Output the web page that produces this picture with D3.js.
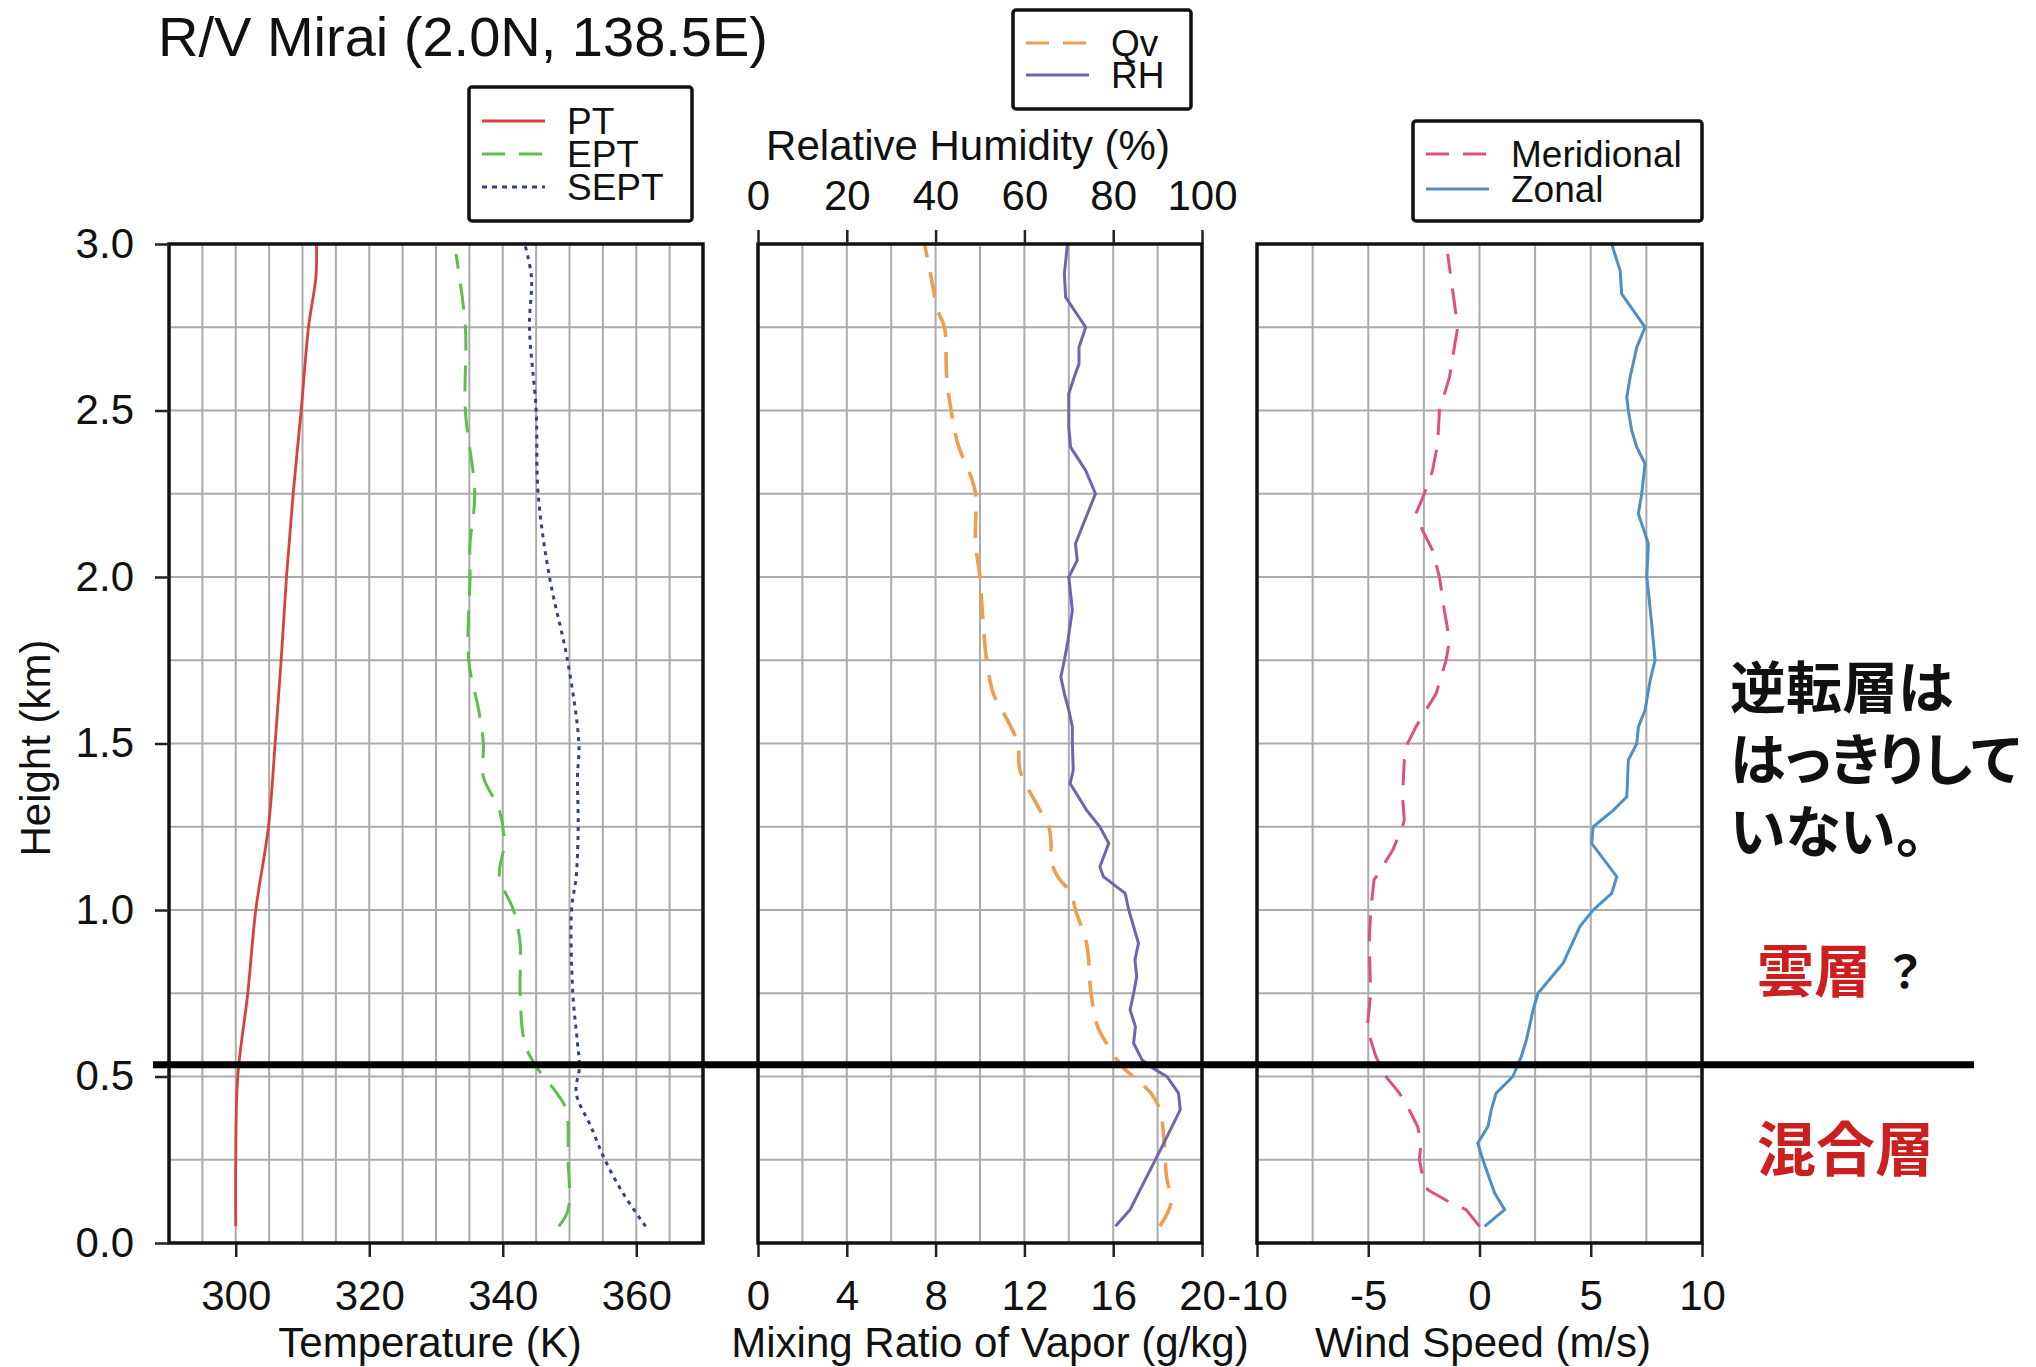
<!DOCTYPE html>
<html>
<head>
<meta charset="utf-8">
<script src="https://cdn.jsdelivr.net/npm/d3@7"></script>
<style>
  html, body { margin: 0; padding: 0; background: #fff; }
  svg text { font-family: "Liberation Sans", Arial, Helvetica, sans-serif; fill: #111; }
  .jp { font-family: "Noto Sans CJK JP", "Noto Sans", sans-serif; font-feature-settings: "palt"; }
</style>
</head>
<body>
<div id="chart"></div>
<script>
// Temperature profiles (K)
const ptHeight = [0.05, 0.25, 0.5, 0.75, 1.0, 1.25, 1.5, 1.75, 2.0, 2.25, 2.5, 2.75, 2.9, 3.0];
const ptValue  = [300.0, 300.0, 300.3, 301.8, 303.0, 304.9, 305.9, 306.8, 307.6, 308.6, 309.8, 310.9, 312.0, 312.1];

const eptHeight = [0.05, 0.1, 0.25, 0.4, 0.45, 0.53, 0.6, 0.75, 0.9, 1.0, 1.1, 1.2, 1.3, 1.4, 1.5, 1.6, 1.75, 2.0, 2.1, 2.25, 2.5, 2.75, 2.97];
const eptValue  = [348.4, 349.8, 349.8, 349.5, 348.1, 345.0, 343.3, 342.6, 342.6, 341.6, 339.5, 340.2, 339.5, 337.1, 337.1, 336.4, 334.9, 335.1, 335.1, 335.8, 334.4, 334.4, 333.0];

const septHeight = [0.05, 0.15, 0.25, 0.35, 0.45, 0.53, 0.6, 0.75, 1.0, 1.1, 1.25, 1.4, 1.5, 1.75, 2.0, 2.25, 2.5, 2.75, 2.9, 3.0];
const septValue  = [361.4, 358.0, 355.3, 353.2, 351.0, 351.5, 351.2, 350.5, 350.3, 351.0, 351.3, 351.2, 351.4, 349.7, 347.0, 345.3, 345.0, 344.0, 344.3, 343.3];

// Water vapour (g/kg) and relative humidity (%)
const qvHeight = [0.05, 0.12, 0.2, 0.3, 0.4, 0.45, 0.5, 0.53, 0.6, 0.65, 0.75, 0.9, 1.0, 1.05, 1.1, 1.15, 1.2, 1.25, 1.3, 1.42, 1.5, 1.6, 1.65, 1.75, 1.9, 2.0, 2.1, 2.25, 2.3, 2.4, 2.5, 2.6, 2.75, 2.8, 2.9, 3.0];
const qvValue  = [18.1, 18.6, 18.4, 18.3, 18.1, 17.7, 16.9, 16.4, 15.7, 15.3, 15.0, 14.8, 14.3, 14.1, 13.5, 13.2, 13.2, 13.1, 12.7, 11.8, 11.7, 11.0, 10.6, 10.3, 10.1, 10.0, 9.8, 9.8, 9.6, 9.0, 8.7, 8.5, 8.4, 8.1, 7.8, 7.5];

const rhHeight = [0.05, 0.1, 0.2, 0.3, 0.4, 0.45, 0.5, 0.53, 0.55, 0.6, 0.65, 0.7, 0.75, 0.8, 0.85, 0.9, 1.0, 1.05, 1.1, 1.13, 1.2, 1.25, 1.3, 1.38, 1.42, 1.5, 1.55, 1.6, 1.65, 1.7, 1.75, 1.8, 1.9, 2.0, 2.05, 2.1, 2.15, 2.25, 2.32, 2.39, 2.45, 2.55, 2.6, 2.64, 2.69, 2.75, 2.84, 2.91, 3.0];
const rhValue  = [80.5, 83.8, 87.6, 91.4, 95.1, 94.7, 92.1, 88.3, 86.5, 84.6, 85.0, 83.8, 84.6, 85.3, 84.9, 85.7, 83.5, 82.7, 77.8, 77.0, 79.0, 77.0, 74.0, 70.3, 71.0, 70.8, 70.8, 70.0, 69.0, 68.2, 69.0, 69.7, 70.8, 70.0, 71.9, 71.5, 73.0, 76.0, 73.8, 70.4, 70.0, 70.0, 71.2, 72.3, 72.3, 73.8, 69.3, 69.0, 69.7];

// Wind components (m/s)
const merHeight = [0.05, 0.1, 0.12, 0.16, 0.2, 0.25, 0.3, 0.35, 0.4, 0.45, 0.5, 0.56, 0.61, 0.65, 0.75, 0.9, 1.0, 1.09, 1.13, 1.18, 1.25, 1.27, 1.34, 1.45, 1.5, 1.55, 1.65, 1.75, 1.81, 1.9, 2.0, 2.08, 2.14, 2.19, 2.25, 2.32, 2.4, 2.5, 2.6, 2.75, 2.97];
const merValue  = [0.0, -0.6, -1.28, -2.33, -2.56, -2.7, -2.63, -2.78, -3.16, -3.6, -4.21, -4.66, -4.89, -5.04, -4.89, -4.96, -4.89, -4.74, -4.36, -3.9, -3.46, -3.38, -3.46, -3.38, -3.23, -2.86, -1.95, -1.5, -1.35, -1.58, -1.8, -2.11, -2.56, -2.86, -2.48, -2.11, -1.88, -1.8, -1.35, -0.98, -1.43];

const zonHeight = [0.05, 0.1, 0.15, 0.25, 0.3, 0.35, 0.4, 0.45, 0.5, 0.56, 0.61, 0.7, 0.75, 0.84, 0.95, 1.0, 1.05, 1.1, 1.2, 1.25, 1.3, 1.34, 1.45, 1.5, 1.55, 1.6, 1.69, 1.75, 1.86, 2.0, 2.1, 2.19, 2.25, 2.34, 2.39, 2.44, 2.5, 2.54, 2.6, 2.69, 2.75, 2.85, 2.92, 3.0];
const zonValue  = [0.23, 1.13, 0.68, 0.15, -0.08, 0.38, 0.53, 0.75, 1.5, 1.88, 2.11, 2.41, 2.63, 3.76, 4.51, 5.11, 5.94, 6.17, 5.04, 5.11, 6.02, 6.62, 6.69, 7.07, 7.14, 7.44, 7.67, 7.89, 7.74, 7.52, 7.59, 7.14, 7.29, 7.44, 7.07, 6.84, 6.69, 6.62, 6.77, 7.07, 7.44, 6.39, 6.32, 5.94];

// Axis ticks and annotations
const heightTicks = [0.0, 0.5, 1.0, 1.5, 2.0, 2.5, 3.0];
const tempTicks = [300, 320, 340, 360];
const qvTicks = [0, 4, 8, 12, 16, 20];
const rhTicks = [0, 20, 40, 60, 80, 100];
const windTicks = [-10, -5, 0, 5, 10];
const layerTop = 0.535;
const noteLines = ['逆転層は', 'はっきりして', 'いない。'];

const W = 2036, H = 1367;
const plotTop = 244, plotBottom = 1243;
const font = '"Liberation Sans", Arial, Helvetica, sans-serif';
const jpFont = '"Noto Sans CJK JP", sans-serif';
const dashed = '26 15';

const svg = d3.select('#chart').append('svg')
    .attr('width', W).attr('height', H);

const y = d3.scaleLinear().domain([0, 3]).range([plotBottom, plotTop]);

function zip(hs, vs) {
    return hs.map((h, i) => ({ h: h, v: vs[i] }));
}

function styleAxis(sel) {
    sel.select('.domain').remove();
    sel.selectAll('line').attr('stroke', '#222').attr('stroke-width', 2.5);
    sel.selectAll('text').attr('font-size', 42).attr('font-family', font).attr('fill', '#111');
}

// plain hyphen for negatives, like the plotting package did
const plain = d => String(d);

// One profile panel: grid, bottom axis
function panel(x0, x1, domain, gridStep, ticks) {
    const x = d3.scaleLinear().domain(domain).range([x0, x1]);
    const g = svg.append('g');

    g.append('g')
        .selectAll('line')
        .data(d3.range(domain[0] + gridStep, domain[1] - gridStep / 2, gridStep))
        .join('line')
        .attr('x1', d => x(d)).attr('x2', d => x(d))
        .attr('y1', plotTop).attr('y2', plotBottom)
        .attr('stroke', '#ababab').attr('stroke-width', 2);

    g.append('g')
        .selectAll('line')
        .data(d3.range(0.25, 3, 0.25))
        .join('line')
        .attr('x1', x0).attr('x2', x1)
        .attr('y1', d => y(d)).attr('y2', d => y(d))
        .attr('stroke', '#ababab').attr('stroke-width', 2);

    g.append('g')
        .attr('transform', `translate(0,${plotBottom})`)
        .call(d3.axisBottom(x).tickValues(ticks).tickSize(14).tickPadding(23).tickFormat(plain))
        .call(styleAxis);

    return { x: x, g: g, x0: x0, x1: x1 };
}

function frame(p) {
    p.g.append('rect')
        .attr('x', p.x0).attr('y', plotTop)
        .attr('width', p.x1 - p.x0).attr('height', plotBottom - plotTop)
        .attr('fill', 'none').attr('stroke', '#111').attr('stroke-width', 3.5);
}

function profile(p, hs, vs, color, dash, width, curve) {
    p.g.append('path')
        .datum(zip(hs, vs))
        .attr('fill', 'none')
        .attr('stroke', color)
        .attr('stroke-width', width)
        .attr('stroke-dasharray', dash)
        .attr('d', d3.line().x(d => p.x(d.v)).y(d => y(d.h)).curve(curve || d3.curveLinear));
}

function legend(x, yTop, w, h, rows) {
    const g = svg.append('g');
    g.append('rect').attr('x', x).attr('y', yTop).attr('width', w).attr('height', h)
        .attr('rx', 3)
        .attr('fill', '#fff').attr('stroke', '#111').attr('stroke-width', 3.5);
    rows.forEach((r, i) => {
        const cy = yTop + r.first + i * r.step;
        g.append('line')
            .attr('x1', x + 13).attr('x2', x + 76)
            .attr('y1', cy).attr('y2', cy)
            .attr('stroke', r.color).attr('stroke-width', 3.2)
            .attr('stroke-dasharray', r.dash);
        g.append('text')
            .attr('x', x + 98).attr('y', cy + 13)
            .attr('font-size', 37).attr('font-family', font)
            .text(r.label);
    });
}

// Panel 1: temperatures
const p1 = panel(169, 703, [290, 370], 5, tempTicks);
profile(p1, ptHeight, ptValue, '#d9403e', null, 2.8, d3.curveCatmullRom);
profile(p1, eptHeight, eptValue, '#5cbf4c', dashed, 3, d3.curveCatmullRom);
profile(p1, septHeight, septValue, '#34427e', '4 5', 3, d3.curveCatmullRom);
frame(p1);

// Height axis on the left of panel 1
svg.append('g')
    .attr('transform', 'translate(169,0)')
    .call(d3.axisLeft(y).tickValues(heightTicks).tickSize(14).tickPadding(21).tickFormat(d3.format('.1f')))
    .call(styleAxis);

// Panel 2: mixing ratio (bottom) and relative humidity (top)
const p2 = panel(758, 1202, [0, 20], 2, qvTicks);
const rhX = d3.scaleLinear().domain([0, 100]).range([758, 1202]);
profile(p2, qvHeight, qvValue, '#ee9e52', dashed, 3.6, d3.curveCatmullRom);
profile({ g: p2.g, x: rhX }, rhHeight, rhValue, '#6a68ad', null, 3);
frame(p2);

svg.append('g')
    .attr('transform', `translate(0,${plotTop})`)
    .call(d3.axisTop(rhX).tickValues(rhTicks).tickSize(14).tickPadding(20))
    .call(styleAxis);

// Panel 3: wind components
const p3 = panel(1257, 1702, [-10, 10], 2.5, windTicks);
profile(p3, merHeight, merValue, '#de4f86', dashed, 3);
profile(p3, zonHeight, zonValue, '#4f8fc4', null, 3);
frame(p3);

// Top of the mixed layer
svg.append('line')
    .attr('x1', 153).attr('x2', 1974)
    .attr('y1', y(layerTop)).attr('y2', y(layerTop))
    .attr('stroke', '#000').attr('stroke-width', 7);

// Axis titles
const labels = [
    { text: 'Temperature (K)', x: 430, y: 1357 },
    { text: 'Mixing Ratio of Vapor (g/kg)', x: 990, y: 1357 },
    { text: 'Wind Speed (m/s)', x: 1483, y: 1357 },
    { text: 'Relative Humidity (%)', x: 968, y: 160 }
];
svg.selectAll('text.axis-title')
    .data(labels)
    .join('text')
    .attr('class', 'axis-title')
    .attr('x', d => d.x).attr('y', d => d.y)
    .attr('text-anchor', 'middle')
    .attr('font-size', 42).attr('font-family', font)
    .text(d => d.text);

svg.append('text')
    .attr('transform', 'translate(50,748) rotate(-90)')
    .attr('text-anchor', 'middle')
    .attr('font-size', 42).attr('font-family', font)
    .text('Height (km)');

svg.append('text')
    .attr('x', 158).attr('y', 56)
    .attr('font-size', 56).attr('font-family', font)
    .text('R/V Mirai (2.0N, 138.5E)');

// Legends
legend(469, 87, 223, 134, [
    { label: 'PT', color: '#d9403e', dash: null, first: 34, step: 33 },
    { label: 'EPT', color: '#5cbf4c', dash: '23 14', first: 34, step: 33 },
    { label: 'SEPT', color: '#34427e', dash: '5 5', first: 34, step: 33 }
]);
legend(1013, 10, 178, 99, [
    { label: 'Qv', color: '#ee9e52', dash: '23 14', first: 33, step: 32 },
    { label: 'RH', color: '#6a68ad', dash: null, first: 33, step: 32 }
]);
legend(1413, 121, 289, 100, [
    { label: 'Meridional', color: '#de4f86', dash: '23 14', first: 33, step: 35 },
    { label: 'Zonal', color: '#4f8fc4', dash: null, first: 33, step: 35 }
]);

// Annotations on the right
svg.selectAll('text.note')
    .data(noteLines)
    .join('text')
    .attr('class', 'note jp')
    .attr('x', 1730).attr('y', (d, i) => 708 + i * 72)
    .attr('font-size', 56).attr('font-weight', 700)
    .attr('font-family', jpFont)
    .text(d => d);

svg.append('text')
    .attr('class', 'jp')
    .attr('x', 1757).attr('y', 992)
    .attr('font-size', 57).attr('font-weight', 700)
    .attr('font-family', jpFont)
    .style('fill', '#cc2020')
    .text('雲層');
svg.append('text')
    .attr('class', 'jp')
    .attr('x', 1890).attr('y', 988)
    .attr('font-size', 44).attr('font-weight', 700)
    .attr('font-family', jpFont)
    .text('？');

svg.append('text')
    .attr('class', 'jp')
    .attr('x', 1757).attr('y', 1171)
    .attr('font-size', 59).attr('font-weight', 700)
    .attr('font-family', jpFont)
    .style('fill', '#cc2020')
    .text('混合層');
</script>
</body>
</html>
